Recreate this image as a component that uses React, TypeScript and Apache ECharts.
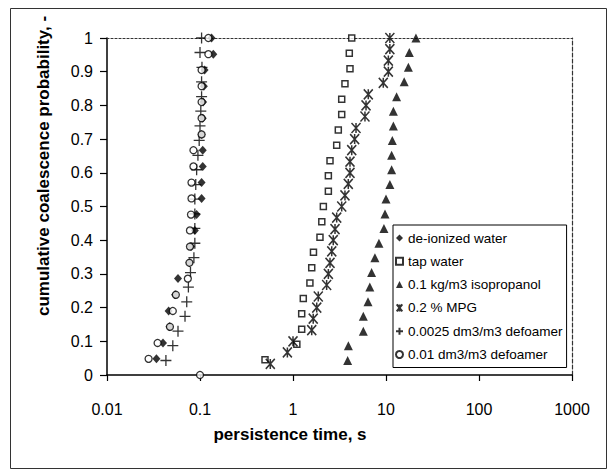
import React, { useEffect, useRef } from "react";
import * as echarts from "echarts";

// ---- data ----
const seriesNames = [
  "de-ionized water",
  "tap water",
  "0.1 kg/m3 isopropanol",
  "0.2 % MPG",
  "0.0025 dm3/m3 defoamer",
  "0.01 dm3/m3 defoamer",
];

const xTickLabels = ["0.01", "0.1", "1", "10", "100", "1000"];

const deionizedP = [0.048, 0.095, 0.143, 0.19, 0.238, 0.286, 0.333, 0.381, 0.429, 0.476, 0.524, 0.571, 0.619, 0.667, 0.714, 0.762, 0.81, 0.857, 0.905, 0.952, 1.0];
const deionizedT = [0.034, 0.04, 0.047, 0.046, 0.054, 0.058, 0.077, 0.08, 0.088, 0.092, 0.104, 0.104, 0.107, 0.107, 0.104, 0.107, 0.108, 0.11, 0.112, 0.139, 0.133];

const tapP = [0.045, 0.091, 0.136, 0.182, 0.227, 0.273, 0.318, 0.364, 0.409, 0.455, 0.5, 0.545, 0.591, 0.636, 0.682, 0.727, 0.773, 0.818, 0.864, 0.909, 0.955, 1.0];
const tapT = [0.5, 1.1, 1.24, 1.24, 1.29, 1.52, 1.59, 1.66, 1.95, 2.04, 2.12, 2.4, 2.4, 2.5, 2.95, 3.07, 3.34, 3.34, 3.62, 4.1, 4.03, 4.28];

const isoP = [0.043, 0.087, 0.13, 0.174, 0.217, 0.261, 0.304, 0.348, 0.391, 0.435, 0.478, 0.522, 0.565, 0.609, 0.652, 0.696, 0.739, 0.783, 0.826, 0.87, 0.913, 0.957, 1.0];
const isoT = [3.87, 3.94, 5.7, 5.7, 6.4, 6.7, 7.0, 7.6, 8.4, 9.5, 9.75, 10.0, 11.0, 11.5, 11.5, 11.7, 12.0, 12.0, 13.0, 15.7, 17.4, 17.8, 21.0];

const mpgP = [0.033, 0.067, 0.1, 0.133, 0.167, 0.2, 0.233, 0.267, 0.3, 0.333, 0.367, 0.4, 0.433, 0.467, 0.5, 0.533, 0.567, 0.6, 0.633, 0.667, 0.7, 0.733, 0.767, 0.8, 0.833, 0.867, 0.9, 0.933, 0.967, 1.0];
const mpgT = [0.57, 0.87, 1.0, 1.59, 1.65, 1.8, 1.87, 2.3, 2.4, 2.5, 2.61, 2.71, 2.83, 2.95, 3.34, 3.62, 3.93, 4.1, 4.1, 4.28, 4.6, 4.76, 5.94, 6.1, 6.45, 9.35, 10.6, 10.6, 11.0, 11.0];

const def0025P = [0.043, 0.087, 0.13, 0.174, 0.217, 0.261, 0.304, 0.348, 0.391, 0.435, 0.478, 0.522, 0.565, 0.609, 0.652, 0.696, 0.739, 0.783, 0.826, 0.87, 0.913, 0.957, 1.0];
const def0025T = [0.043, 0.051, 0.058, 0.069, 0.072, 0.075, 0.079, 0.086, 0.088, 0.088, 0.088, 0.088, 0.09, 0.092, 0.095, 0.098, 0.1, 0.102, 0.104, 0.104, 0.105, 0.1, 0.104];

const def001P = [0, 0.048, 0.095, 0.143, 0.19, 0.238, 0.286, 0.333, 0.381, 0.429, 0.476, 0.524, 0.571, 0.619, 0.667, 0.714, 0.762, 0.81, 0.857, 0.905, 0.952, 1.0];
const def001T = [0.1, 0.028, 0.035, 0.0475, 0.051, 0.055, 0.074, 0.077, 0.078, 0.078, 0.08, 0.081, 0.081, 0.085, 0.085, 0.104, 0.104, 0.104, 0.104, 0.104, 0.123, 0.123];

const FONT = "'Liberation Sans', Arial, sans-serif";

const pairs = (t: number[], p: number[]) => t.map((v, i) => [v, p[i]]);

const ASTERISK = "path://M0,0L8,10M8,0L0,10M4,0L4,10";
const PLUS = "path://M0,5L10,5M5,0L5,10";

function buildOption() {
  const base = { type: "scatter", xAxisIndex: 0, yAxisIndex: 0 };
  const series = [
    {
      ...base,
      name: seriesNames[0],
      data: pairs(deionizedT, deionizedP),
      symbol: "diamond",
      symbolSize: [8, 9],
      itemStyle: { color: "#000" },
    },
    {
      ...base,
      name: seriesNames[1],
      data: pairs(tapT, tapP),
      symbol: "rect",
      symbolSize: 6,
      itemStyle: { color: "#fff", borderColor: "#000", borderWidth: 1.5 },
    },
    {
      ...base,
      name: seriesNames[2],
      data: pairs(isoT, isoP),
      symbol: "triangle",
      symbolSize: [9, 9],
      itemStyle: { color: "#000" },
    },
    {
      ...base,
      name: seriesNames[3],
      data: pairs(mpgT, mpgP),
      symbol: ASTERISK,
      symbolSize: [9, 10],
      itemStyle: { color: "rgba(0,0,0,0)", borderColor: "#000", borderWidth: 1.6 },
    },
    {
      ...base,
      name: seriesNames[4],
      data: pairs(def0025T, def0025P),
      symbol: PLUS,
      symbolSize: 11,
      itemStyle: { color: "rgba(0,0,0,0)", borderColor: "#000", borderWidth: 1.3 },
    },
    {
      ...base,
      name: seriesNames[5],
      data: pairs(def001T, def001P),
      symbol: "circle",
      symbolSize: 7,
      itemStyle: { color: "#fff", borderColor: "#000", borderWidth: 1.3 },
    },
  ];

  return {
    animation: false,
    backgroundColor: "#fff",
    textStyle: { fontFamily: FONT, color: "#000" },
    grid: { left: 107, right: 38, top: 38, bottom: 96, containLabel: false },
    xAxis: [
      {
        type: "log",
        logBase: 10,
        min: 0.01,
        max: 1000,
        position: "bottom",
        axisLine: { show: true, onZero: false, lineStyle: { color: "#000", width: 1.5 } },
        axisTick: { show: true, inside: false, length: 6, lineStyle: { color: "#000", width: 1.2 } },
        minorTick: { show: false },
        splitLine: { show: false },
        axisLabel: {
          margin: 26,
          fontSize: 16,
          fontFamily: FONT,
          color: "#000",
          formatter: (v: number) => {
            const e = Math.round(Math.log10(v));
            return xTickLabels[e + 2] ?? String(v);
          },
        },
      },
      {
        type: "log",
        logBase: 10,
        min: 0.01,
        max: 1000,
        position: "top",
        axisLine: { show: true, onZero: false, lineStyle: { color: "#333", width: 1.2, type: [2, 2] } },
        axisTick: { show: false },
        axisLabel: { show: false },
        splitLine: { show: false },
      },
    ],
    yAxis: [
      {
        type: "value",
        min: 0,
        max: 1,
        interval: 0.1,
        position: "left",
        axisLine: { show: true, onZero: false, lineStyle: { color: "#000", width: 1.5 } },
        axisTick: { show: true, inside: false, length: 7, lineStyle: { color: "#000", width: 1.2 } },
        splitLine: { show: false },
        axisLabel: { margin: 14, fontSize: 16, fontFamily: FONT, color: "#000" },
      },
      {
        type: "value",
        min: 0,
        max: 1,
        interval: 0.1,
        position: "right",
        axisLine: { show: true, onZero: false, lineStyle: { color: "#333", width: 1.2, type: [4, 2] } },
        axisTick: { show: false },
        axisLabel: { show: false },
        splitLine: { show: false },
      },
    ],
    legend: {
      data: seriesNames,
      orient: "vertical",
      left: 393,
      top: 225,
      padding: [6, 4, 6, 2],
      itemGap: 9.3,
      itemWidth: 7,
      itemHeight: 7,
      backgroundColor: "#fff",
      borderColor: "#000",
      borderWidth: 1,
      borderRadius: 0,
      textStyle: { fontSize: 13.5, fontFamily: FONT, color: "#000", lineHeight: 14 },
    },
    graphic: [
      {
        type: "rect",
        silent: true,
        shape: { x: 10.5, y: 8.5, width: 596, height: 460 },
        style: { fill: "none", stroke: "#333", lineWidth: 1 },
        z: -10,
      },
      {
        type: "text",
        x: 290,
        y: 434,
        style: {
          text: "persistence time, s",
          font: `bold 17px ${FONT}`,
          fill: "#000",
          textAlign: "center",
          textVerticalAlign: "middle",
        },
      },
      {
        type: "text",
        x: 43,
        y: 166,
        rotation: Math.PI / 2,
        style: {
          text: "cumulative coalescence probability, -",
          font: `bold 17px ${FONT}`,
          fill: "#000",
          textAlign: "center",
          textVerticalAlign: "middle",
        },
      },
    ],
    series,
  };
}

export default function App() {
  const ref = useRef<HTMLDivElement>(null);
  useEffect(() => {
    if (!ref.current) return;
    const chart = echarts.init(ref.current, null, { renderer: "svg" });
    chart.setOption(buildOption() as any);
    return () => chart.dispose();
  }, []);
  return (
    <div
      ref={ref}
      style={{ position: "fixed", left: 0, top: 0, width: 610, height: 471, background: "#fff" }}
    />
  );
}
